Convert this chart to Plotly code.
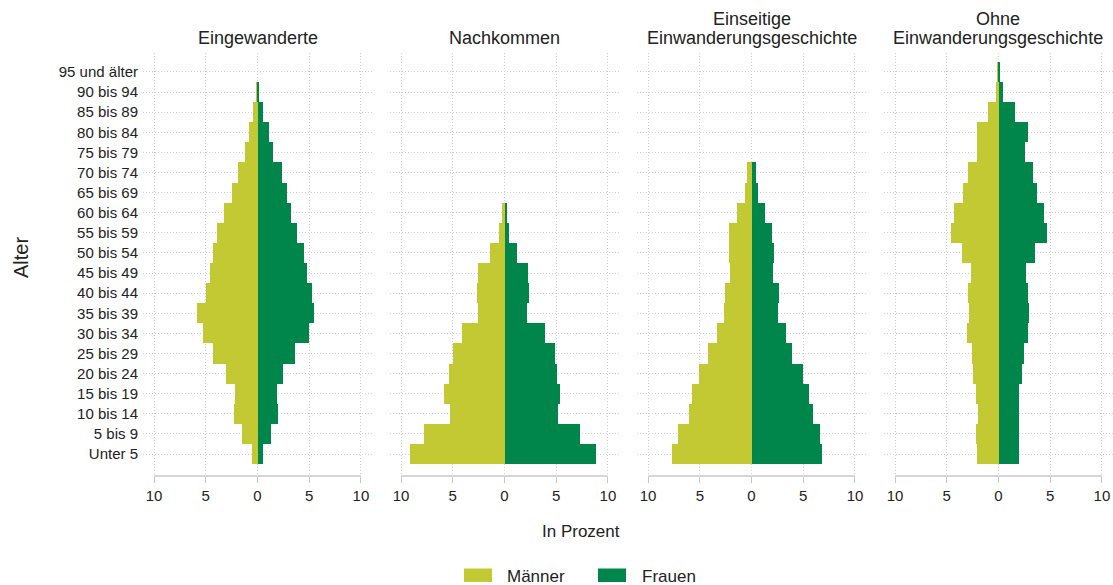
import plotly.graph_objects as go
from plotly.subplots import make_subplots

# Age groups, bottom to top
altersgruppen = ["Unter 5", "5 bis 9", "10 bis 14", "15 bis 19", "20 bis 24",
                 "25 bis 29", "30 bis 34", "35 bis 39", "40 bis 44", "45 bis 49",
                 "50 bis 54", "55 bis 59", "60 bis 64", "65 bis 69", "70 bis 74",
                 "75 bis 79", "80 bis 84", "85 bis 89", "90 bis 94", "95 und älter"]

panel_titel = [["Eingewanderte"], ["Nachkommen"],
               ["Einseitige", "Einwanderungsgeschichte"],
               ["Ohne", "Einwanderungsgeschichte"]]

# Shares in percent (bottom to top)
eingewanderte_maenner = [0.58, 1.50, 2.24, 2.18, 3.07, 4.29, 5.28, 5.82, 5.02, 4.61,
                         4.29, 3.94, 3.26, 2.50, 1.86, 1.25, 0.86, 0.42, 0.10, 0.0]
eingewanderte_frauen = [0.51, 1.28, 1.98, 1.92, 2.50, 3.58, 5.02, 5.44, 5.31, 4.77,
                        4.48, 3.78, 3.26, 2.88, 2.37, 1.50, 1.09, 0.54, 0.13, 0.0]

nachkommen_maenner = [9.16, 7.77, 5.23, 5.87, 5.39, 5.00, 4.13, 2.52, 2.68, 2.52,
                      1.39, 0.58, 0.26, 0, 0, 0, 0, 0, 0, 0]
nachkommen_frauen = [8.84, 7.26, 5.19, 5.32, 5.10, 4.90, 3.87, 2.19, 2.39, 2.26,
                     1.16, 0.48, 0.23, 0, 0, 0, 0, 0, 0, 0]

einseitig_maenner = [7.65, 7.13, 6.00, 5.74, 5.06, 4.23, 3.35, 2.65, 2.58, 2.06,
                     2.13, 2.13, 1.42, 0.65, 0.45, 0, 0, 0, 0, 0]
einseitig_frauen = [6.81, 6.65, 5.90, 5.52, 4.97, 3.94, 3.35, 2.58, 2.68, 2.03,
                    2.16, 2.00, 1.35, 0.65, 0.39, 0, 0, 0, 0, 0]

ohne_maenner = [2.06, 2.16, 2.03, 2.13, 2.42, 2.61, 3.00, 2.84, 2.94, 2.65,
                3.55, 4.61, 4.26, 3.45, 2.94, 2.06, 2.06, 1.03, 0.29, 0.10]
ohne_frauen = [1.97, 1.97, 1.94, 1.97, 2.26, 2.42, 2.81, 2.90, 2.81, 2.65,
               3.52, 4.68, 4.42, 3.68, 3.29, 2.52, 2.87, 1.58, 0.48, 0.16]

maenner = [eingewanderte_maenner, nachkommen_maenner, einseitig_maenner, ohne_maenner]
frauen = [eingewanderte_frauen, nachkommen_frauen, einseitig_frauen, ohne_frauen]

x_tickvals = [-10, -5, 0, 5, 10]
x_ticktext = ["10", "5", "0", "5", "10"]

farbe_maenner = "#C3C933"
farbe_frauen = "#00864A"
font_family = "Liberation Sans, Arial, sans-serif"
grid_farbe = "#cfcfcf"
grid_dash = "1px,2px"

W, H = 1113, 585
ML, MT = 143, 53
PW = W - ML
PH = 423
MB = H - MT - PH


def px_x(x):
    return (x - ML) / PW


def px_y(y):
    return (MT + PH - y) / PH


fig = make_subplots(rows=1, cols=4, shared_yaxes=True)

domains = [[0.0, 0.2361], [0.2546, 0.4907], [0.5093, 0.7454], [0.7639, 1.0]]

for i in range(4):
    m_vals = [-v for v in maenner[i]]
    f_vals = frauen[i]
    fig.add_trace(go.Bar(y=altersgruppen, x=m_vals, orientation="h",
                         name="Männer", marker=dict(color=farbe_maenner, line=dict(width=0)),
                         customdata=maenner[i], hovertemplate="%{y}: %{customdata} %<extra>Männer</extra>",
                         showlegend=False), row=1, col=i + 1)
    fig.add_trace(go.Bar(y=altersgruppen, x=f_vals, orientation="h",
                         name="Frauen", marker=dict(color=farbe_frauen, line=dict(width=0)),
                         customdata=frauen[i], hovertemplate="%{y}: %{customdata} %<extra>Frauen</extra>",
                         showlegend=False), row=1, col=i + 1)

    xa = "xaxis" if i == 0 else f"xaxis{i + 1}"
    fig.layout[xa].update(domain=domains[i], range=[-11.07, 11.07],
                          tickvals=x_tickvals, ticktext=x_ticktext,
                          showgrid=True, gridcolor=grid_farbe, griddash=grid_dash, gridwidth=1,
                          zeroline=False, showline=False,
                          ticks="outside", ticklen=6, tickcolor="#c8c8c8", tickwidth=1,
                          tickfont=dict(size=15, color="#222", family=font_family),
                          fixedrange=True)
    xref = "x" if i == 0 else f"x{i + 1}"
    fig.add_shape(type="line", xref=xref, yref="paper",
                  x0=-10, x1=10, y0=0, y1=0, line=dict(color="#c8c8c8", width=1.5))

    n = len(panel_titel[i])
    for j, line in enumerate(panel_titel[i]):
        ypx = 37.7 if n == 1 else (18.5 if j == 0 else 38.5)
        fig.add_annotation(text=line, xref=f"{xref} domain", yref="paper",
                           x=0.5, y=px_y(ypx), xanchor="center", yanchor="middle",
                           showarrow=False,
                           font=dict(size=18, color="#222", family=font_family))

for k in range(4):
    ya = "yaxis" if k == 0 else f"yaxis{k + 1}"
    fig.layout[ya].update(type="category", categoryorder="array", categoryarray=altersgruppen,
                          range=[-1.09, 19.94],
                          showgrid=True, gridcolor=grid_farbe, griddash=grid_dash, gridwidth=1,
                          zeroline=False, showline=False, ticks="",
                          showticklabels=(k == 0), ticklabelstandoff=4,
                          tickfont=dict(size=15, color="#222", family=font_family),
                          fixedrange=True)

# axis titles
fig.add_annotation(text="In Prozent", xref="paper", yref="paper",
                   x=px_x(581), y=px_y(531), xanchor="center", yanchor="middle",
                   showarrow=False, font=dict(size=17, color="#222", family=font_family))
fig.add_annotation(text="Alter", xref="paper", yref="paper", textangle=-90,
                   x=px_x(21), y=px_y(258), xanchor="center", yanchor="middle",
                   showarrow=False, font=dict(size=20, color="#222", family=font_family))

# legend
legend_items = [("Männer", farbe_maenner, 464, 492, 505), ("Frauen", farbe_frauen, 598, 626, 640)]
for name, col, x0, x1, xt in legend_items:
    fig.add_shape(type="rect", xref="paper", yref="paper",
                  x0=px_x(x0), x1=px_x(x1), y0=px_y(582), y1=px_y(568.5),
                  fillcolor=col, line=dict(width=0))
    fig.add_annotation(text=name, xref="paper", yref="paper",
                       x=px_x(xt), y=px_y(576), xanchor="left", yanchor="middle",
                       showarrow=False, font=dict(size=17, color="#222", family=font_family))

fig.update_layout(width=W, height=H, barmode="relative", bargap=0,
                  margin=dict(l=ML, r=0, t=MT, b=MB),
                  plot_bgcolor="white", paper_bgcolor="white",
                  font=dict(family=font_family, color="#222"),
                  showlegend=False)

fig.write_html("out.html", config={"displayModeBar": False},
               post_script="document.body.style.margin='0px';document.body.style.overflow='hidden';")
